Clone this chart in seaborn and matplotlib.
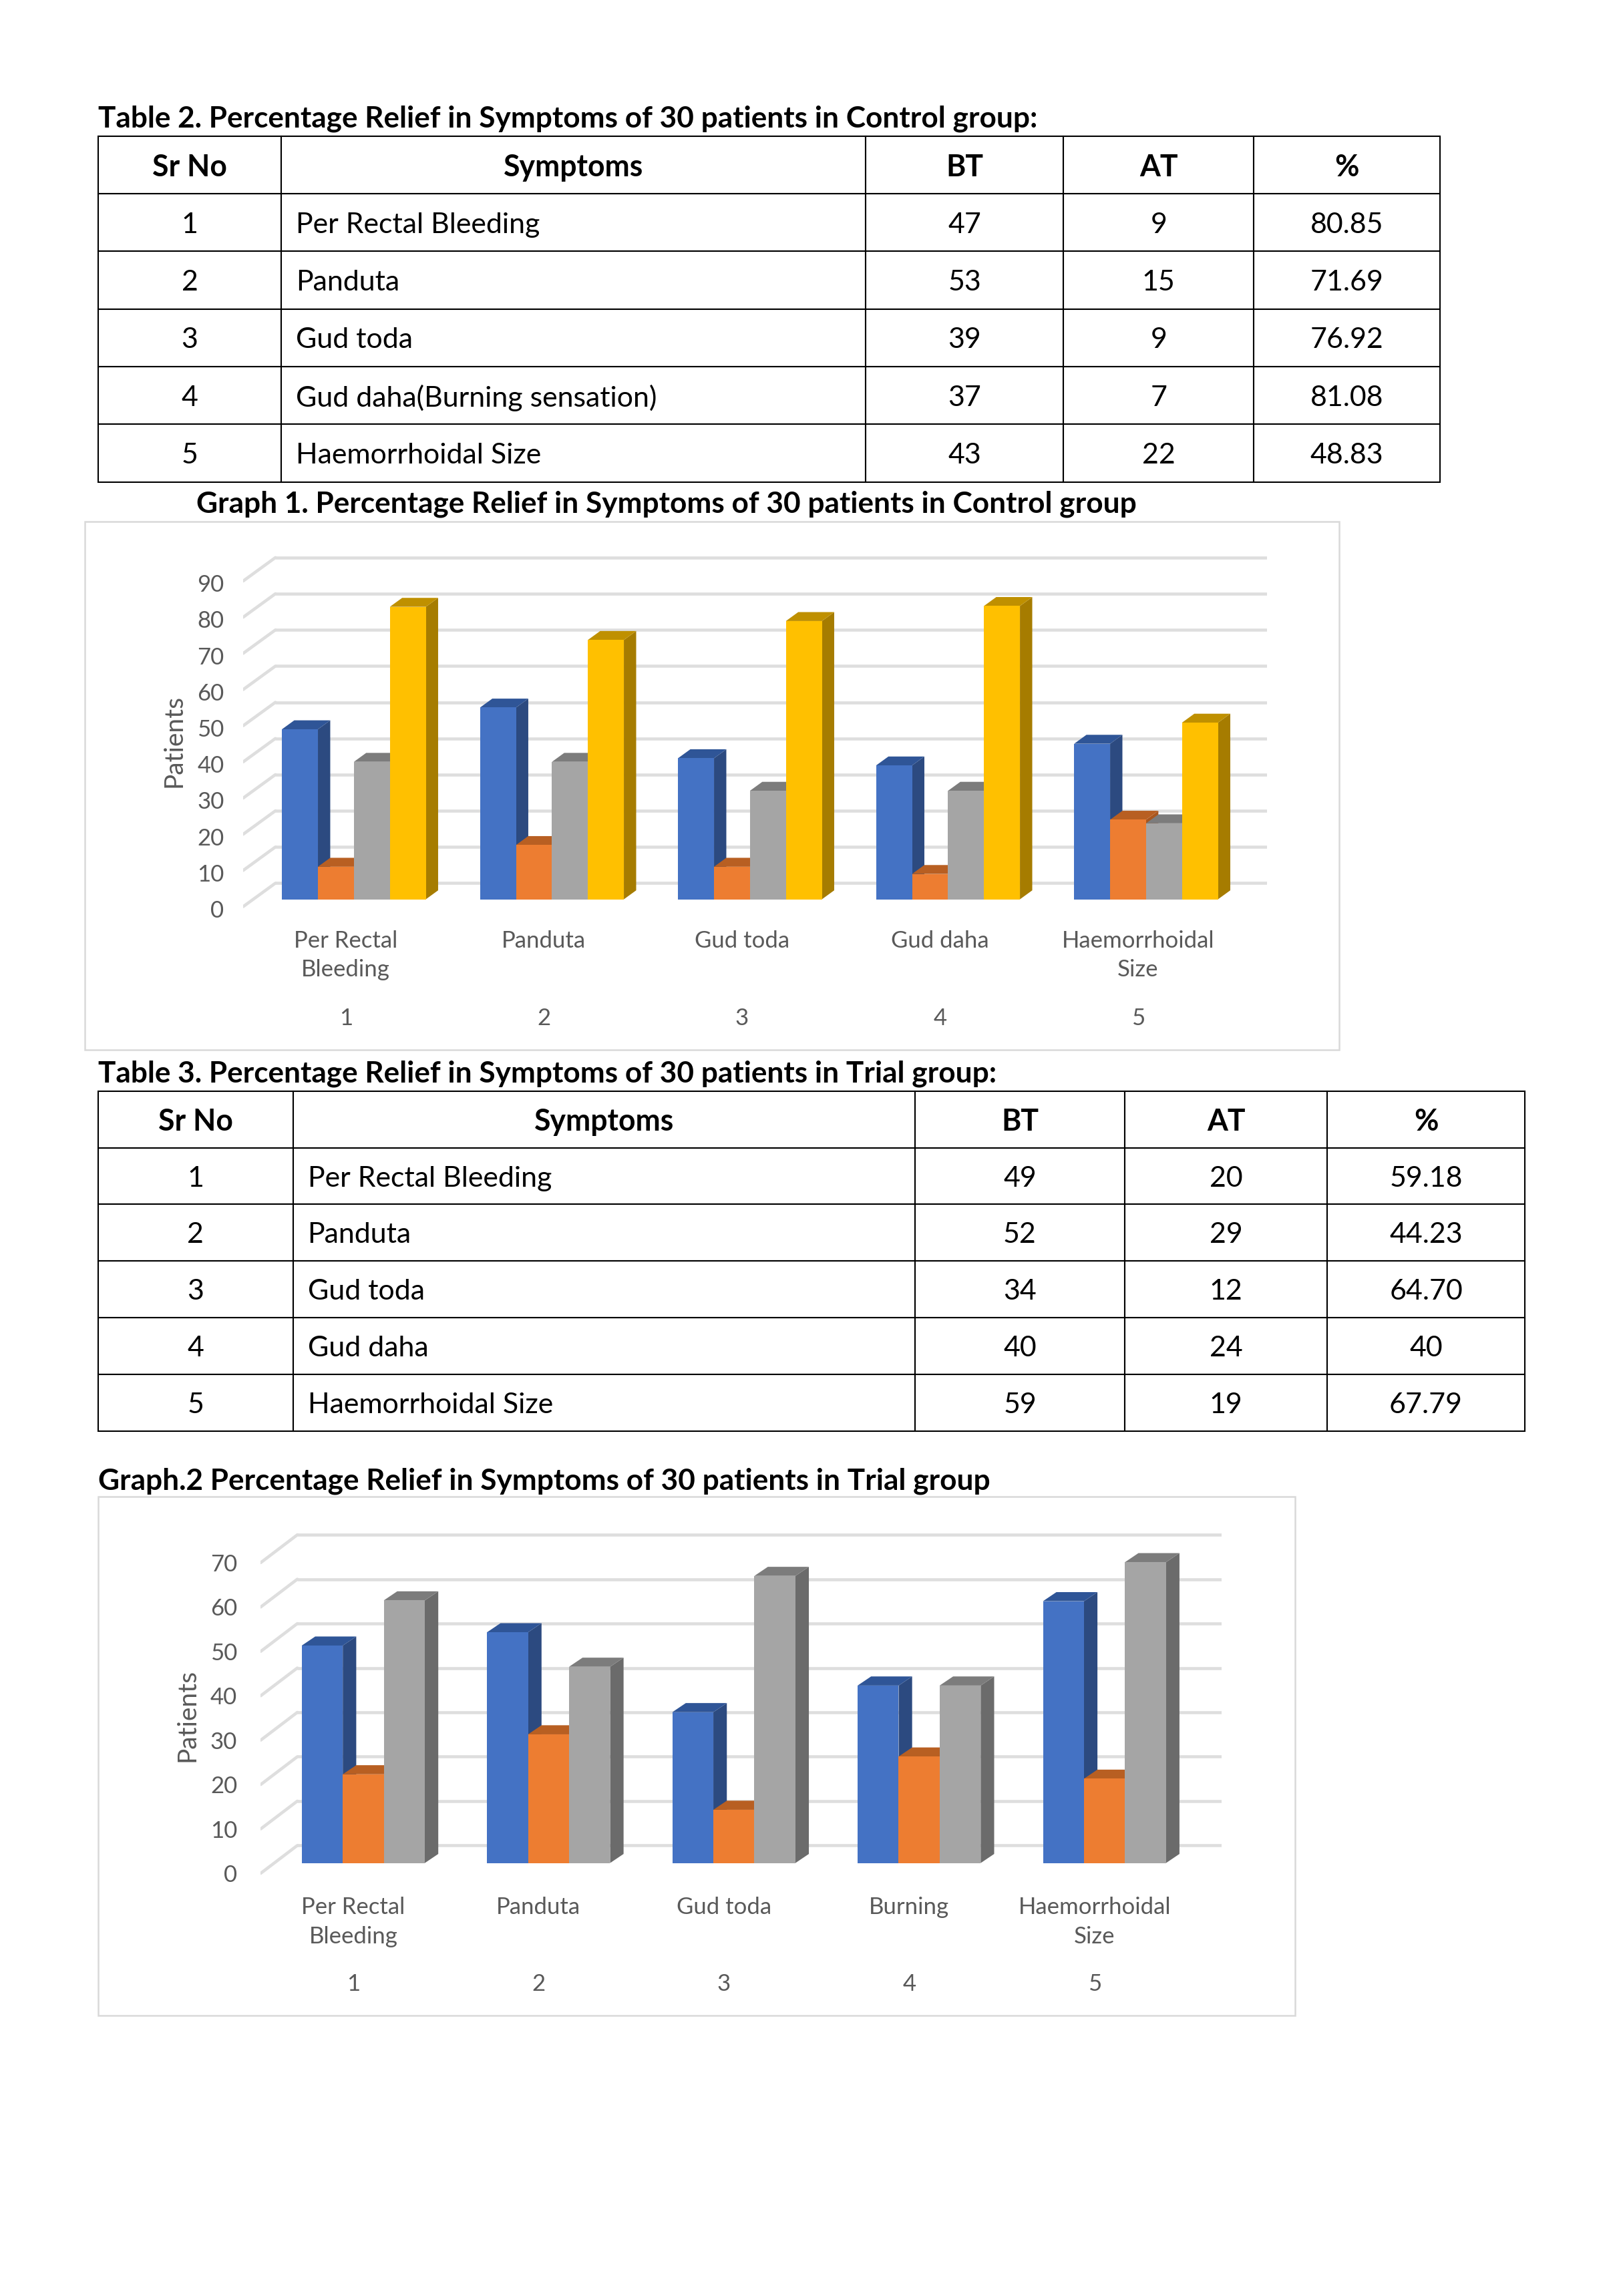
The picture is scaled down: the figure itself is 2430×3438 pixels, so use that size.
import numpy as np
import pandas as pd
import matplotlib.pyplot as plt
from matplotlib.patches import Rectangle
import seaborn as sns

sns.set_theme(style="white")
plt.rcParams['font.family'] = ['Lato', 'DejaVu Sans']

# data
table1_header = ['Sr No', 'Symptoms', 'BT', 'AT', '%']
table1_symptoms = ['Per Rectal Bleeding', 'Panduta', 'Gud toda', 'Gud daha(Burning sensation)', 'Haemorrhoidal Size']
table1_bt = [47, 53, 39, 37, 43]
table1_at = [9, 15, 9, 7, 22]
table1_pct = ['80.85', '71.69', '76.92', '81.08', '48.83']

table2_symptoms = ['Per Rectal Bleeding', 'Panduta', 'Gud toda', 'Gud daha', 'Haemorrhoidal Size']
table2_bt = [49, 52, 34, 40, 59]
table2_at = [20, 29, 12, 24, 19]
table2_pct = ['59.18', '44.23', '64.70', '40', '67.79']

graph1_cats = ['Per Rectal\nBleeding', 'Panduta', 'Gud toda', 'Gud daha', 'Haemorrhoidal\nSize']
graph1_bt = [47, 53, 39, 37, 43]
graph1_at = [9, 15, 9, 7, 22]
graph1_diff = [38, 38, 30, 30, 21]
graph1_pct = [80.85, 71.69, 76.92, 81.08, 48.83]
graph1_ticks = list(range(0, 100, 10))

graph2_cats = ['Per Rectal\nBleeding', 'Panduta', 'Gud toda', 'Burning', 'Haemorrhoidal\nSize']
graph2_bt = [49, 52, 34, 40, 59]
graph2_at = [20, 29, 12, 24, 19]
graph2_pct = [59.18, 44.23, 64.70, 40, 67.79]
graph2_ticks = list(range(0, 80, 10))

# positions below are in "page units", 1108 wide
PAGE_W = 1108.0
PAGE_H = 3438 / 2430 * PAGE_W
PT = 2430 / PAGE_W * 72 / 300  # page unit -> points

FACE = ['#4472C4', '#ED7D31', '#A5A5A5', '#FFC000']
TOP = ['#2F5597', '#B85F22', '#7C7C7C', '#BF9000']
SIDE = ['#2C4A80', '#A9561E', '#6B6B6B', '#A67C00']
GREY_TEXT = '#595959'
TITLE_SIZE = 10.6
BODY_SIZE = 10.3
HEAD_SIZE = 10.7
CHART_SIZE = 8.35

fig = plt.figure(figsize=(8.1, 11.46), dpi=300)


def box(x0, y0, x1, y1):
    return [x0 / PAGE_W, 1 - y1 / PAGE_H, (x1 - x0) / PAGE_W, (y1 - y0) / PAGE_H]


def page_text(x, y, s):
    fig.text(x / PAGE_W, 1 - y / PAGE_H, s, fontsize=TITLE_SIZE, fontweight='bold',
             color='black', ha='left', va='center')


def draw_table(xs, ys, symptoms, bt, at, pct):
    ax = fig.add_axes(box(xs[0], ys[0], xs[-1], ys[-1]))
    ax.axis('off')
    rows = [[str(i + 1), s, str(b), str(a), p]
            for i, (s, b, a, p) in enumerate(zip(symptoms, bt, at, pct))]
    tab = ax.table(cellText=rows, colLabels=table1_header, cellLoc='center',
                   colWidths=list(np.diff(xs) / (xs[-1] - xs[0])), bbox=[0, 0, 1, 1])
    tab.auto_set_font_size(False)
    tab.set_fontsize(BODY_SIZE)
    for (r, c), cell in tab.get_celld().items():
        cell.set_linewidth(0.5)
        cell.set_edgecolor('black')
        cell.get_text().set_color('black')
        cell.get_text().set_verticalalignment('center_baseline')
        if r == 0:
            cell.get_text().set_fontweight('bold')
            cell.get_text().set_fontsize(HEAD_SIZE)
        elif c == 1:
            cell.PAD = 10 / (xs[2] - xs[1])
            cell.set_text_props(ha='left')


def draw_graph(frame, cats, series, ticks, first_bar, period, group_w, base_y, unit,
               wall_x, wall_y, wall_r, left, tick_y, depth, label_shift, num_y,
               tick_r, tick_shift, ylabel_x, ylabel_y):
    fig.add_artist(Rectangle((frame[0] / PAGE_W, 1 - frame[3] / PAGE_H),
                             (frame[2] - frame[0]) / PAGE_W, (frame[3] - frame[1]) / PAGE_H,
                             transform=fig.transFigure, fill=False, edgecolor='#D9D9D9', linewidth=0.6))

    top = wall_y - ticks[-1] * unit - 8
    bottom = tick_y + 8
    ax = fig.add_axes(box(left, top, wall_r, bottom))
    ax.patch.set_alpha(0)

    names = list(series)
    df = pd.DataFrame({'symptom': cats, **series}).melt('symptom', var_name='series', value_name='value')
    sns.barplot(data=df, x='symptom', y='value', hue='series', order=cats, hue_order=names,
                palette=FACE[:len(names)], width=group_w / period, gap=0, saturation=1,
                linewidth=0, legend=False, ax=ax)

    centre = first_bar + group_w / 2
    ax.set_xlim((left - centre) / period, (wall_r - centre) / period)
    ax.set_ylim((base_y - bottom) / unit, (base_y - top) / unit)

    ticks = np.array(ticks)
    wall_dy = (base_y - wall_y) / unit
    floor_dy = (base_y - tick_y) / unit
    wall_x0 = (wall_x - centre) / period
    left_x0 = (left - centre) / period
    grid = {'color': '#DEDEDE', 'linewidth': 1.1, 'zorder': 1}
    ax.hlines(ticks + wall_dy, wall_x0, (wall_r - centre) / period, **grid)
    for t in ticks:
        ax.plot([left_x0, wall_x0], [t + floor_dy, t + wall_dy], **grid)

    # fake the 3D columns from what seaborn drew
    dx = depth[0] / period
    dy = depth[1] / unit
    for j, bars in enumerate(ax.containers):
        for bar in bars:
            x0, w, h = bar.get_x(), bar.get_width(), bar.get_height()
            x1 = x0 + w
            bar.set_zorder(3 + j + 0.5)
            ax.fill([x1, x1 + dx, x1 + dx, x1], [0, dy, h + dy, h], color=SIDE[j], lw=0, zorder=3 + j)
            ax.fill([x0, x0 + dx, x1 + dx, x1], [h, h + dy, h + dy, h], color=TOP[j], lw=0, zorder=3 + j)

    pos = np.arange(len(cats)) + label_shift / period
    ax.set_xticks(pos, cats)
    ax.set_yticks(ticks + floor_dy - tick_shift / unit, [str(t) for t in ticks])
    ax.tick_params(axis='x', length=0, pad=8 * PT, labelsize=CHART_SIZE, labelcolor=GREY_TEXT)
    ax.tick_params(axis='y', length=0, pad=(left - tick_r) * PT, labelsize=CHART_SIZE, labelcolor=GREY_TEXT)
    for lab in ax.get_xticklabels():
        lab.set_linespacing(1.45)
    for i, p in enumerate(pos):
        ax.annotate(str(i + 1), (p, 0), xytext=(0, -(num_y - base_y) * PT), textcoords='offset points',
                    ha='center', va='center', fontsize=CHART_SIZE, color=GREY_TEXT, annotation_clip=False)
    ax.set_xlabel('')
    ax.set_ylabel('Patients', fontsize=CHART_SIZE + 1, color=GREY_TEXT)
    ax.yaxis.set_label_coords((ylabel_x - left) / (wall_r - left), (bottom - ylabel_y) / (bottom - top))
    sns.despine(ax=ax, left=True, bottom=True)


page_text(67, 81, 'Table 2. Percentage Relief in Symptoms of 30 patients in Control group:')
draw_table(np.array([67, 192, 591, 726, 856, 983.0]), [93, 329], table1_symptoms, table1_bt, table1_at, table1_pct)

page_text(134, 344, 'Graph 1. Percentage Relief in Symptoms of 30 patients in Control group')
draw_graph((58, 356, 914, 717), graph1_cats,
           {'BT': graph1_bt, 'AT': graph1_at, 'Diff': graph1_diff, '%': graph1_pct}, graph1_ticks,
           first_bar=192.5, period=135.2, group_w=98.2, base_y=614, unit=2.47,
           wall_x=188, wall_y=603, wall_r=865, left=166, tick_y=619, depth=(8.4, 6.1),
           label_shift=-5.5, num_y=695.5, tick_r=153, tick_shift=1.5, ylabel_x=127, ylabel_y=506)

page_text(67, 733, 'Table 3. Percentage Relief in Symptoms of 30 patients in Trial group:')
draw_table(np.array([67, 200, 624.5, 768, 906, 1041.0]), [745, 977], table2_symptoms, table2_bt, table2_at, table2_pct)

page_text(67, 1011, 'Graph.2 Percentage Relief in Symptoms of 30 patients in Trial group')
draw_graph((67, 1022, 884, 1376), graph2_cats,
           {'BT': graph2_bt, 'AT': graph2_at, '%': graph2_pct}, graph2_ticks,
           first_bar=206, period=126.5, group_w=84, base_y=1272, unit=3.03,
           wall_x=203, wall_y=1260, wall_r=834, left=178, tick_y=1279, depth=(9.2, 6.2),
           label_shift=-6.8, num_y=1354.5, tick_r=162, tick_shift=0, ylabel_x=136, ylabel_y=1171)

fig.savefig('out.png', dpi=300, facecolor='white')
